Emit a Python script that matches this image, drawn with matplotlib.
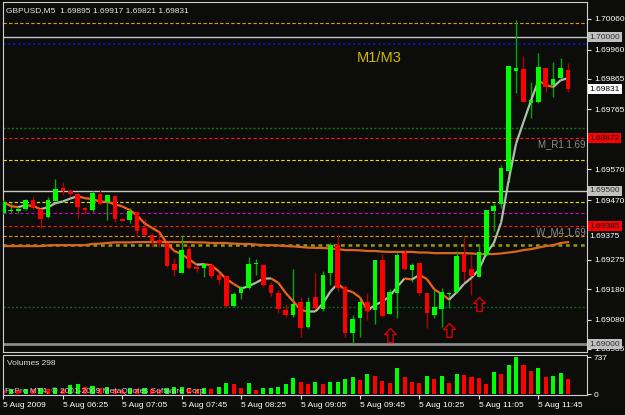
import numpy as np
import pandas as pd
import matplotlib
matplotlib.use('Agg')
import matplotlib.pyplot as plt
from matplotlib.collections import LineCollection
from matplotlib.path import Path

plt.rcParams['font.family'] = ['Liberation Sans', 'DejaVu Sans']

# GBPUSD M5, 5 Aug 2009 05:45 .. 12:05 (77 bars)
opens = [1.69428, 1.69434, 1.69434, 1.69441, 1.69470, 1.69441, 1.69415, 1.69467, 1.69509, 1.69499,
         1.69490, 1.69444, 1.69437, 1.69490, 1.69463, 1.69483, 1.69408, 1.69405, 1.69431, 1.69379,
         1.69356, 1.69340, 1.69330, 1.69262, 1.69232, 1.69310, 1.69252, 1.69249, 1.69258, 1.69226,
         1.69223, 1.69125, 1.69167, 1.69183, 1.69262, 1.69258, 1.69193, 1.69167, 1.69112, 1.69096,
         1.69138, 1.69056, 1.69154, 1.69115, 1.69232, 1.69323, 1.69187, 1.69037, 1.69086, 1.69138,
         1.69112, 1.69275, 1.69099, 1.69167, 1.69297, 1.69242, 1.69265, 1.69167, 1.69096, 1.69115,
         1.69164, 1.69170, 1.69294, 1.69245, 1.69219, 1.69291, 1.69434, 1.69457, 1.69565, 1.69890,
         1.69897, 1.69786, 1.69789, 1.69900, 1.69845, 1.69867, 1.69895]
highs = [1.69470, 1.69460, 1.69444, 1.69473, 1.69480, 1.69444, 1.69480, 1.69538, 1.69529, 1.69506,
         1.69493, 1.69447, 1.69499, 1.69503, 1.69488, 1.69486, 1.69408, 1.69444, 1.69431, 1.69408,
         1.69362, 1.69372, 1.69330, 1.69281, 1.69353, 1.69323, 1.69258, 1.69265, 1.69265, 1.69232,
         1.69223, 1.69170, 1.69190, 1.69284, 1.69278, 1.69258, 1.69203, 1.69177, 1.69131, 1.69245,
         1.69154, 1.69154, 1.69232, 1.69239, 1.69330, 1.69356, 1.69193, 1.69096, 1.69151, 1.69167,
         1.69275, 1.69294, 1.69180, 1.69297, 1.69310, 1.69265, 1.69265, 1.69167, 1.69177, 1.69183,
         1.69170, 1.69304, 1.69349, 1.69291, 1.69327, 1.69437, 1.69460, 1.69584, 1.69906, 1.70056,
         1.69939, 1.69854, 1.69949, 1.69900, 1.69920, 1.69932, 1.69917]
lows = [1.69424, 1.69428, 1.69428, 1.69437, 1.69441, 1.69379, 1.69411, 1.69467, 1.69486, 1.69477,
        1.69411, 1.69424, 1.69431, 1.69454, 1.69405, 1.69398, 1.69402, 1.69395, 1.69349, 1.69353,
        1.69317, 1.69317, 1.69252, 1.69223, 1.69232, 1.69245, 1.69236, 1.69219, 1.69216, 1.69196,
        1.69122, 1.69122, 1.69148, 1.69180, 1.69226, 1.69187, 1.69157, 1.69102, 1.69089, 1.69089,
        1.69024, 1.69053, 1.69108, 1.69108, 1.69193, 1.69174, 1.69024, 1.69005, 1.69024, 1.69079,
        1.69066, 1.69089, 1.69099, 1.69086, 1.69242, 1.69203, 1.69161, 1.69053, 1.69086, 1.69056,
        1.69118, 1.69167, 1.69203, 1.69161, 1.69219, 1.69288, 1.69369, 1.69444, 1.69529, 1.69819,
        1.69789, 1.69737, 1.69786, 1.69822, 1.69806, 1.69861, 1.69821]
closes = [1.69463, 1.69437, 1.69441, 1.69470, 1.69444, 1.69408, 1.69470, 1.69506, 1.69499, 1.69490,
          1.69447, 1.69437, 1.69493, 1.69457, 1.69486, 1.69408, 1.69402, 1.69434, 1.69369, 1.69356,
          1.69336, 1.69330, 1.69255, 1.69242, 1.69307, 1.69249, 1.69245, 1.69262, 1.69223, 1.69209,
          1.69125, 1.69164, 1.69187, 1.69262, 1.69265, 1.69193, 1.69167, 1.69115, 1.69096, 1.69131,
          1.69053, 1.69138, 1.69118, 1.69226, 1.69323, 1.69183, 1.69037, 1.69082, 1.69138, 1.69108,
          1.69275, 1.69092, 1.69170, 1.69291, 1.69245, 1.69258, 1.69167, 1.69102, 1.69122, 1.69170,
          1.69167, 1.69288, 1.69236, 1.69223, 1.69301, 1.69437, 1.69450, 1.69574, 1.69906, 1.69900,
          1.69789, 1.69796, 1.69903, 1.69838, 1.69864, 1.69900, 1.69831]
volumes = [86, 100, 80, 110, 95, 120, 105, 120, 100, 186,
           206, 150, 166, 120, 140, 110, 90, 130, 100, 120,
           110, 90, 130, 140, 150, 120, 100, 120, 110, 140,
           219, 206, 120, 219, 86, 120, 127, 139, 199, 332,
           252, 199, 252, 199, 239, 252, 305, 345, 286, 398,
           365, 266, 219, 531, 345, 239, 219, 365, 305, 365,
           219, 405, 385, 345, 325, 199, 452, 405, 584, 737,
           584, 458, 525, 345, 365, 418, 298]
slow_ma = [1.69320, 1.69320, 1.69320, 1.69320, 1.69320, 1.69320, 1.69322, 1.69323, 1.69323, 1.69323,
           1.69323, 1.69323, 1.69327, 1.69328, 1.69330, 1.69332, 1.69332, 1.69332, 1.69333, 1.69333,
           1.69333, 1.69333, 1.69333, 1.69333, 1.69333, 1.69333, 1.69332, 1.69332, 1.69330, 1.69330,
           1.69330, 1.69328, 1.69327, 1.69327, 1.69325, 1.69323, 1.69323, 1.69322, 1.69320, 1.69319,
           1.69317, 1.69315, 1.69314, 1.69314, 1.69312, 1.69310, 1.69307, 1.69307, 1.69306, 1.69304,
           1.69304, 1.69302, 1.69301, 1.69301, 1.69301, 1.69301, 1.69299, 1.69299, 1.69297, 1.69297,
           1.69297, 1.69297, 1.69297, 1.69296, 1.69294, 1.69294, 1.69294, 1.69296, 1.69299, 1.69302,
           1.69307, 1.69310, 1.69315, 1.69320, 1.69323, 1.69330, 1.69333]

time_ticks = [0, 8, 16, 24, 32, 40, 48, 56, 64, 72]
time_labels = ['5 Aug 2009', '5 Aug 06:25', '5 Aug 07:05', '5 Aug 07:45', '5 Aug 08:25',
               '5 Aug 09:05', '5 Aug 09:45', '5 Aug 10:25', '5 Aug 11:05', '5 Aug 11:45']
price_ticks = [1.70060, 1.69960, 1.69865, 1.69765, 1.69570, 1.69470,
               1.69375, 1.69275, 1.69180, 1.69080, 1.68985]

# horizontal levels: price, colour, style, width
levels = [(1.70047, '#e39a1c', (0, (3, 2)), 0.8),
          (1.70000, '#c8c8c8', '-', 1.0),
          (1.69979, '#1010c8', (0, (1.5, 1.5)), 1.2),
          (1.69705, '#0a7a0a', (0, (1.5, 1.5)), 1.0),
          (1.69672, '#ff1010', (0, (3, 2)), 0.8),
          (1.69600, '#e6e600', (0, (3, 2)), 0.8),
          (1.69500, '#c8c8c8', '-', 1.0),
          (1.69464, '#e6e600', (0, (3, 2)), 0.8),
          (1.69428, '#c800c8', (0, (3, 2)), 0.8),
          (1.69385, '#ff1010', (0, (3, 2)), 0.8),
          (1.69353, '#e3901c', (0, (3, 2)), 0.8),
          (1.69325, '#9a9a10', (0, (1.5, 1.5)), 1.8),
          (1.69122, '#0a6a0a', (0, (1.5, 1.5)), 1.0),
          (1.69000, '#8a8a8a', '-', 2.0)]
# boxed price labels: price, box colour, text colour
boxes = [(1.70000, '#c0c0c0', '#303030'),
         (1.69831, '#ffffff', '#000000'),
         (1.69672, '#ff0000', '#000000'),
         (1.69500, '#c0c0c0', '#303030'),
         (1.69385, '#ff0000', '#000000'),
         (1.69000, '#c0c0c0', '#303030')]
arrow_bars = [52, 60, 64]
arrow_prices = [1.69030, 1.69046, 1.69131]

bg = '#0c0d0a'
W, H = 625, 415


def px_rect(l, t, r, b):
    return [l / W, 1 - b / H, (r - l) / W, (b - t) / H]


fig = plt.figure(figsize=(W / 100, H / 100), dpi=100, facecolor=bg)
ax = fig.add_axes(px_rect(3, 2, 587, 352), facecolor=bg)
axv = fig.add_axes(px_rect(3, 355, 587, 395), facecolor=bg)

n = len(closes)
x = np.arange(n)
o = np.array(opens); c = np.array(closes)
hi = np.array(highs); lo = np.array(lows)
up = c >= o

# levels
for p, col, ls, lw in levels:
    ax.axhline(p, color=col, linestyle=ls, linewidth=lw, zorder=1)

# moving averages
ax.plot(x, slow_ma, color='#d8661c', linewidth=1.6, zorder=2)
fast = pd.Series(closes).rolling(5, min_periods=1).mean().values
segs = [[(x[i], fast[i]), (x[i + 1], fast[i + 1])] for i in range(n - 1)]
seg_cols = ['#a9c0a6' if fast[i + 1] >= fast[i] else '#f0621a' for i in range(n - 1)]
ax.add_collection(LineCollection(segs, colors=seg_cols, linewidths=1.6, zorder=4))

# candles
ax.vlines(x[up], lo[up], hi[up], color='#00a800', linewidth=1, zorder=3)
ax.vlines(x[~up], lo[~up], hi[~up], color='#b40000', linewidth=1, zorder=3)
body_lo = np.minimum(o, c)
body_h = np.maximum(np.abs(c - o), 0.00004)
ax.bar(x[up], body_h[up], bottom=body_lo[up], width=0.62, color='#00ff00', zorder=5)
ax.bar(x[~up], body_h[~up], bottom=body_lo[~up], width=0.62, color='#ff0000', zorder=5)

# hollow up-arrow signals
arrow = Path([(0, 1), (0.85, 0.15), (0.38, 0.15), (0.38, -1), (-0.38, -1),
              (-0.38, 0.15), (-0.85, 0.15), (0, 1)], closed=True)
ax.plot(arrow_bars, arrow_prices, linestyle='none', marker=arrow, markersize=10,
        markerfacecolor=bg, markeredgecolor='#d80000', markeredgewidth=1.0, zorder=6)

ax.text(47.5, 1.69934, 'M1/M3', color='#d4b800', fontsize=10.5, ha='left', va='center')
ax.text(72.0, 1.69652, 'M_R1 1.69', color='#8c8c8c', fontsize=7, ha='left', va='center')
ax.text(71.7, 1.69366, 'W_M4 1.69', color='#8c8c8c', fontsize=7, ha='left', va='center')
ax.text(0.005, 0.985, 'GBPUSD,M5  1.69895 1.69917 1.69821 1.69831', transform=ax.transAxes,
        color='#e6e6e6', fontsize=6, ha='left', va='top')

ax.set_xlim(-0.05, 78.55)
ax.set_ylim(1.68975, 1.70115)
ax.set_xticks([])
ax.yaxis.tick_right()
ax.set_yticks(price_ticks)
# the 1.69375 label sits just under the red 1.69385 box, written separately below
ax.set_yticklabels(['' if p == 1.69375 else '%.5f' % p for p in price_ticks])
ax.tick_params(axis='y', direction='out', length=3, width=0.8, color='#e0e0e0',
               labelcolor='#ffffff', labelsize=6, pad=2)
ax.text(1.0045, 1.69350, '%.5f' % 1.69375, transform=ax.get_yaxis_transform(), color='#ffffff',
        fontsize=6, ha='left', va='center', clip_on=False, zorder=9)

for p, fc, tc in boxes:
    ax.text(1.0045, p, '%.5f' % p, transform=ax.get_yaxis_transform(), color=tc, fontsize=6,
            ha='left', va='center', clip_on=False, zorder=10,
            bbox=dict(boxstyle='square,pad=0.18', facecolor=fc, edgecolor='none'))

# volumes, green when volume rises vs previous bar
vol = np.array(volumes)
vcol = ['#00ff00' if i > 0 and vol[i] > vol[i - 1] else '#ff0000' for i in range(n)]
axv.bar(x, vol, width=0.55, color=vcol, zorder=2)
axv.set_xlim(-0.05, 78.55)
axv.set_ylim(-15, 780)
axv.yaxis.tick_right()
axv.set_yticks([0, 737])
axv.set_yticklabels(['0', '737'])
axv.tick_params(axis='y', direction='out', length=3, width=0.8, color='#e0e0e0',
                labelcolor='#ffffff', labelsize=6, pad=2)
axv.set_xticks(time_ticks)
axv.set_xticklabels(time_labels, ha='left')
axv.tick_params(axis='x', direction='out', length=3, width=0.8, color='#e0e0e0',
                labelcolor='#ffffff', labelsize=6, pad=2)
axv.text(0.006, 0.78, 'Volumes 298', transform=axv.transAxes, color='#e0e0e0', fontsize=6,
         ha='left', va='center')
axv.text(0.004, 0.09, 'FxPro MT4, \u00a9 2001-2009 MetaQuotes Software Corp.', transform=axv.transAxes,
         color='#c8c8c8', fontsize=6, ha='left', va='center', zorder=5)

for a in (ax, axv):
    for side in ('left', 'right', 'top', 'bottom'):
        a.spines[side].set_color('#d0d0d0')
        a.spines[side].set_linewidth(0.8)
    a.spines['left'].set_linestyle((0, (1, 1)))
axv.spines['top'].set_linestyle((0, (1, 1)))

fig.savefig('out.png', dpi=100, facecolor=bg)
